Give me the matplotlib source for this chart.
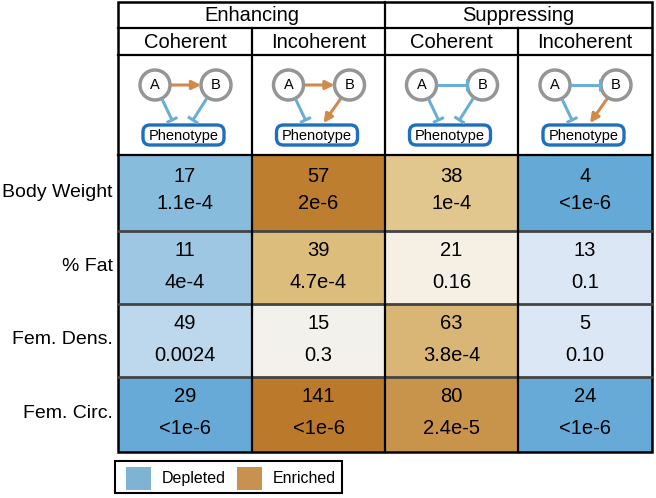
import numpy as np
import matplotlib.pyplot as plt
from matplotlib.patches import Circle, FancyBboxPatch, FancyArrowPatch, Rectangle
from matplotlib.colors import LinearSegmentedColormap

plt.rcParams['font.family'] = ['Liberation Sans', 'DejaVu Sans']

groups = ['Enhancing', 'Suppressing']
subgroups = ['Coherent', 'Incoherent', 'Coherent', 'Incoherent']
rows = ['Body Weight', '% Fat', 'Fem. Dens.', 'Fem. Circ.']
counts = [[17, 57, 38, 4],
          [11, 39, 21, 13],
          [49, 15, 63, 5],
          [29, 141, 80, 24]]
pvals = [['1.1e-4', '2e-6', '1e-4', '<1e-6'],
         ['4e-4', '4.7e-4', '0.16', '0.1'],
         ['0.0024', '0.3', '3.8e-4', '0.10'],
         ['<1e-6', '<1e-6', '2.4e-5', '<1e-6']]
# signed enrichment score (negative = depleted, positive = enriched)
score = [[-0.60, 0.97, 0.50, -0.93],
         [-0.50, 0.58, 0.10, -0.20],
         [-0.35, 0.02, 0.62, -0.20],
         [-0.90, 1.00, 0.83, -0.90]]

cmap = LinearSegmentedColormap.from_list('depl_enr', [
    (0.0, '#5ea5d5'), (0.2, '#88bcdd'), (0.4, '#dce7f5'), (0.5, '#f3f2ee'),
    (0.55, '#f5efe4'), (0.775, '#dfc283'), (1.0, '#bb7a2b')])

fig = plt.figure(figsize=(6.56, 4.98), dpi=100)
ax = fig.add_axes([0, 0, 1, 1])
ax.set_xlim(0, 656)
ax.set_ylim(498, 0)
ax.axis('off')

xs = [118, 252, 385, 518, 652]
ytop, y1, y2, y3 = 2, 28, 55, 155
ys = [155, 231, 304, 377, 452]

# data cells
for i in range(4):
    for j in range(4):
        c = cmap((score[i][j] + 1) / 2)
        ax.add_patch(Rectangle((xs[j], ys[i]), xs[j + 1] - xs[j], ys[i + 1] - ys[i],
                               facecolor=c, edgecolor='none'))
        cx = (xs[j] + xs[j + 1]) / 2
        off1, off2 = (21, 48) if i == 0 else (19, 51)
        ax.text(cx, ys[i] + off1, str(counts[i][j]), ha='center', va='center', fontsize=14.5)
        ax.text(cx, ys[i] + off2, pvals[i][j], ha='center', va='center', fontsize=14.5)
    ax.text(113, (ys[i] + ys[i + 1]) / 2 - 1, rows[i], ha='right', va='center', fontsize=14)

# grid lines
for y in ys[1:-1]:
    ax.plot([xs[0], xs[-1]], [y, y], color='#444444', lw=2)
for y in [y1, y2, y3]:
    ax.plot([xs[0], xs[-1]], [y, y], color='black', lw=1.6)
for k, x in enumerate(xs[1:-1]):
    top = ytop if k == 1 else y1
    ax.plot([x, x], [top, ys[-1]], color='black', lw=1.6)
ax.add_patch(Rectangle((xs[0], ytop), xs[-1] - xs[0], ys[-1] - ytop,
                       facecolor='none', edgecolor='black', lw=1.8))

# headers
for g, name in enumerate(groups):
    ax.text((xs[2 * g] + xs[2 * g + 2]) / 2, 15, name, ha='center', va='center', fontsize=14.5)
for j, name in enumerate(subgroups):
    ax.text((xs[j] + xs[j + 1]) / 2, 42, name, ha='center', va='center', fontsize=14.5)

# motif diagrams
orange = '#d08a4a'
blue = '#6aaed6'


def act(p0, p1):
    ax.add_patch(FancyArrowPatch(p0, p1, arrowstyle='-|>', mutation_scale=13,
                                 color=orange, lw=2.2, shrinkA=0, shrinkB=0))


def inh(p0, p1):
    p0, p1 = np.array(p0, float), np.array(p1, float)
    d = (p1 - p0) / np.hypot(*(p1 - p0))
    n = np.array([-d[1], d[0]]) * 6
    ax.plot([p0[0], p1[0]], [p0[1], p1[1]], color=blue, lw=2.2, solid_capstyle='butt')
    ax.plot([p1[0] - n[0], p1[0] + n[0]], [p1[1] - n[1], p1[1] + n[1]],
            color=blue, lw=2.2, solid_capstyle='butt')


for j in range(4):
    cx = (xs[j] + xs[j + 1]) / 2
    suppress = j >= 2
    coherent = j % 2 == 0
    if suppress:
        inh((cx - 15, 85), (cx + 15, 85))
    else:
        act((cx - 15, 85), (cx + 16, 85))
    inh((cx - 23, 99), (cx - 13, 120))
    if coherent:
        inh((cx + 22, 98), (cx + 8, 120))
    else:
        act((cx + 22, 99), (cx + 5, 123))
    for px, lab in [(cx - 30, 'A'), (cx + 31, 'B')]:
        ax.add_patch(Circle((px, 85), 15, facecolor='white', edgecolor='#959595', lw=2.5))
        ax.text(px, 85, lab, ha='center', va='center', fontsize=10.5)
    ax.add_patch(FancyBboxPatch((cx - 40, 127), 77, 16, boxstyle='round,pad=2,rounding_size=7',
                                facecolor='white', edgecolor='#1f6fbf', lw=2.4))
    ax.text(cx - 1.5, 135.5, 'Phenotype', ha='center', va='center', fontsize=10.5)

# legend
ax.add_patch(Rectangle((115, 461), 227, 32, facecolor='white', edgecolor='black', lw=1.5))
ax.add_patch(Rectangle((126, 467), 25, 23, facecolor='#7fb3d3', edgecolor='none'))
ax.text(162, 478.5, 'Depleted', ha='left', va='center', fontsize=11.5)
ax.add_patch(Rectangle((237, 467), 25, 23, facecolor='#c8914f', edgecolor='none'))
ax.text(273, 478.5, 'Enriched', ha='left', va='center', fontsize=11.5)

fig.savefig('out.png', dpi=100)
